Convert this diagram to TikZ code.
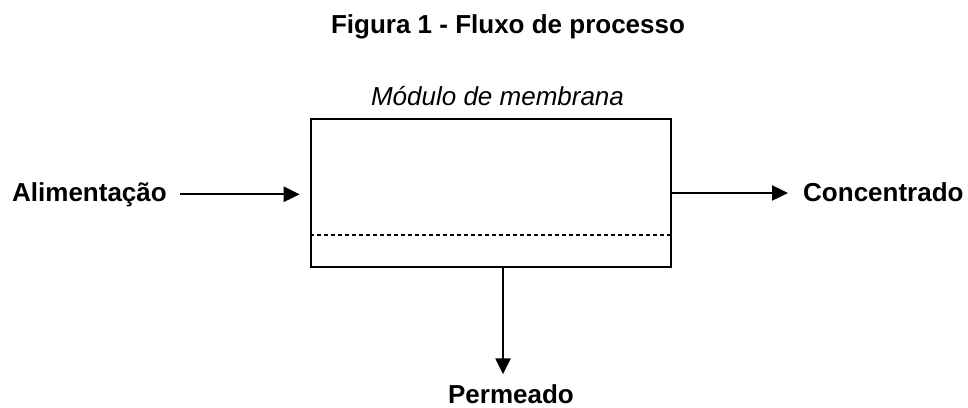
\documentclass[tikz,border=0pt]{standalone}
\usepackage{fontspec}
\setmainfont{Liberation Sans}
\usetikzlibrary{arrows.meta}
\begin{document}
\begin{tikzpicture}[x=1pt,y=-1pt,
  lbl/.style={inner sep=0pt, font=\fontsize{26}{30}\selectfont},
  arr/.style={line width=2.4pt, -{Triangle[length=16pt,width=15pt]}},
  boxstyle/.style={draw, line width=2.6pt, minimum width=360pt, minimum height=148pt, inner sep=0pt}]
\useasboundingbox (0,0) rectangle (968,407);
\node[lbl, anchor=base, font=\fontsize{26}{30}\selectfont\bfseries] (title) at (508,33) {Figura 1 - Fluxo de processo};
\node[lbl, anchor=base, font=\fontsize{26}{30}\selectfont\itshape] (mod) at (497.5,105) {Módulo de membrana};
\node[boxstyle] (box) at (491,193) {};
\draw[line width=1.2pt, dash pattern=on 4pt off 3pt] (box.west |- 0,235) -- (box.east |- 0,235);
\node[lbl, anchor=base west, font=\fontsize{26}{30}\selectfont\bfseries] (alim) at (12,201) {Alimentação};
\node[lbl, anchor=base west, font=\fontsize{26}{30}\selectfont\bfseries] (conc) at (803,201) {Concentrado};
\node[lbl, anchor=base, font=\fontsize{26}{30}\selectfont\bfseries] (perm) at (511,403) {Permeado};
\draw[arr] ([xshift=13pt]alim.east) -- ([xshift=-10pt]alim.east -| box.west);
\draw[arr] (box.east) -- ([xshift=-15pt]box.east -| conc.west);
\draw[arr] ([xshift=12pt]box.south) -- ++(0,106);
\end{tikzpicture}
\end{document}
